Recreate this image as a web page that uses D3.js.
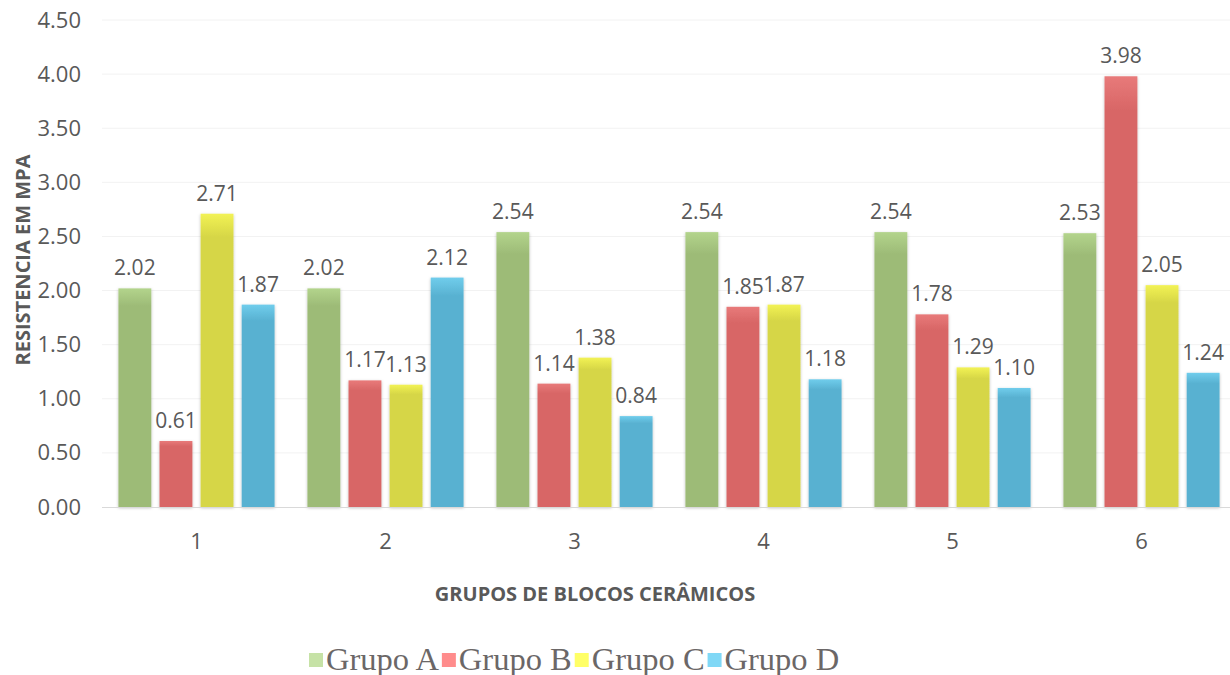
<!DOCTYPE html>
<html>
<head>
<meta charset="utf-8">
<script src="https://cdn.jsdelivr.net/npm/d3@7"></script>
<style>
  body { margin: 0; background: #fff; }
  svg { display: block; }
</style>
</head>
<body>
<div id="chart"></div>
<script>
var categories = ["1", "2", "3", "4", "5", "6"];
var seriesNames = ["Grupo A", "Grupo B", "Grupo C", "Grupo D"];
var grupoA = [2.02, 2.02, 2.54, 2.54, 2.54, 2.53];
var grupoB = [0.61, 1.17, 1.14, 1.85, 1.78, 3.98];
var grupoC = [2.71, 1.13, 1.38, 1.87, 1.29, 2.05];
var grupoD = [1.87, 2.12, 0.84, 1.18, 1.10, 1.24];
var yTicks = [0, 0.5, 1, 1.5, 2, 2.5, 3, 3.5, 4, 4.5];

var barColors = [
  { top: "#b3d48c", bottom: "#9dbb77", legend: "#c6e2a6" },
  { top: "#e87a7a", bottom: "#d86666", legend: "#ff8c8c" },
  { top: "#f2f255", bottom: "#d6d646", legend: "#ffff66" },
  { top: "#70cdec", bottom: "#58b1d1", legend: "#80d8f6" }
];

var width = 1230, height = 675;
var margin = { left: 102, right: -6, top: 20, bottom: 168 };

var svg = d3.select("#chart").append("svg")
    .attr("width", width)
    .attr("height", height);

var defs = svg.append("defs");
barColors.forEach(function(c, i){
    var g = defs.append("linearGradient")
        .attr("id", "grad" + i)
        .attr("x1", 0).attr("y1", 0).attr("x2", 0).attr("y2", 1);
    g.append("stop").attr("offset", "0%").attr("stop-color", c.top);
    g.append("stop").attr("offset", "8%").attr("stop-color", c.bottom);
    g.append("stop").attr("offset", "100%").attr("stop-color", c.bottom);
});
var shadow = defs.append("filter").attr("id", "shadow")
    .attr("x", "-20%").attr("y", "-5%").attr("width", "140%").attr("height", "110%");
shadow.append("feDropShadow")
    .attr("dx", 0).attr("dy", 1).attr("stdDeviation", 1.5)
    .attr("flood-color", "#000").attr("flood-opacity", 0.25);

var plotW = width - margin.left - margin.right;
var plotH = height - margin.top - margin.bottom;

var x0 = d3.scaleBand()
    .domain(categories)
    .range([margin.left, margin.left + plotW])
    .paddingInner(0)
    .paddingOuter(0);

var x1 = d3.scaleBand()
    .domain(seriesNames)
    .range([0, x0.bandwidth()])
    .paddingInner(0.2)
    .paddingOuter(0.4);

var y = d3.scaleLinear()
    .domain([0, 4.5])
    .range([margin.top + plotH, margin.top]);

// gridlines
svg.append("g").selectAll("line")
    .data(yTicks.slice(1))
    .enter().append("line")
    .attr("x1", margin.left).attr("x2", width)
    .attr("y1", function(d){ return y(d); })
    .attr("y2", function(d){ return y(d); })
    .attr("stroke", "#f2f2f2")
    .attr("stroke-width", 1);

// y axis labels
var yAxis = d3.axisLeft(y).tickValues(yTicks).tickSize(0).tickPadding(0)
    .tickFormat(d3.format(".2f"));
var yG = svg.append("g")
    .attr("transform", "translate(" + 81 + ",0)")
    .call(yAxis);
yG.select(".domain").remove();
yG.selectAll("text")
    .attr("font-family", "'Open Sans', sans-serif")
    .attr("font-size", "22px")
    .attr("fill", "#595959");

var series = [grupoA, grupoB, grupoC, grupoD];
var data = [];
categories.forEach(function(cat, ci){
    series.forEach(function(s, si){
        data.push({ cat: cat, name: seriesNames[si], idx: si, value: s[ci] });
    });
});

var bars = svg.append("g");
bars.selectAll("rect")
    .data(data)
    .enter().append("rect")
    .attr("x", function(d){ return x0(d.cat) + x1(d.name); })
    .attr("y", function(d){ return y(d.value); })
    .attr("width", x1.bandwidth())
    .attr("height", function(d){ return y(0) - y(d.value); })
    .attr("fill", function(d){ return "url(#grad" + d.idx + ")"; })
    .attr("filter", "url(#shadow)");

// baseline
svg.append("line")
    .attr("x1", margin.left).attr("x2", width)
    .attr("y1", y(0) + 0.5).attr("y2", y(0) + 0.5)
    .attr("stroke", "#d9d9d9").attr("stroke-width", 1);

// data labels
svg.append("g").selectAll("text")
    .data(data)
    .enter().append("text")
    .attr("x", function(d){ return x0(d.cat) + x1(d.name) + x1.bandwidth() / 2; })
    .attr("y", function(d){ return y(d.value) - 13; })
    .attr("text-anchor", "middle")
    .attr("font-family", "'Open Sans', sans-serif")
    .attr("font-size", "21px")
    .attr("fill", "#595959")
    .text(function(d){ return d3.format(".2f")(d.value); });

// x axis labels
var xAxis = d3.axisBottom(x0).tickSize(0).tickPadding(0);
var xG = svg.append("g")
    .attr("transform", "translate(0," + (y(0) + 26) + ")")
    .call(xAxis);
xG.select(".domain").remove();
xG.selectAll("text")
    .attr("font-family", "'Open Sans', sans-serif")
    .attr("font-size", "22px")
    .attr("fill", "#595959");

// axis titles
svg.append("text")
    .attr("x", 595).attr("y", 601)
    .attr("text-anchor", "middle")
    .attr("font-family", "'Open Sans', sans-serif")
    .attr("font-size", "20px")
    .attr("font-weight", "bold")
    .attr("fill", "#595959")
    .text("GRUPOS DE BLOCOS CERÂMICOS");

svg.append("text")
    .attr("transform", "translate(30," + 260 + ") rotate(-90)")
    .attr("text-anchor", "middle")
    .attr("font-family", "'Open Sans', sans-serif")
    .attr("font-size", "20px")
    .attr("font-weight", "bold")
    .attr("fill", "#595959")
    .text("RESISTENCIA EM MPA");

// legend: squares first, names on top
var legend = svg.append("g").attr("transform", "translate(309,660)");
var swatches = legend.append("g");
var names = legend.append("g");
var lx = 0;
seriesNames.forEach(function(name, i){
    swatches.append("rect")
        .attr("x", lx).attr("y", -7)
        .attr("width", 14).attr("height", 14)
        .attr("fill", barColors[i].legend);
    var t = names.append("text")
        .attr("x", lx + 17).attr("y", 10)
        .attr("font-family", "'Liberation Serif', 'Times New Roman', serif")
        .attr("font-size", "32.5px")
        .attr("fill", "#6b6767")
        .text(name);
    lx += 17 + t.node().getComputedTextLength() + 3;
});
</script>
</body>
</html>
